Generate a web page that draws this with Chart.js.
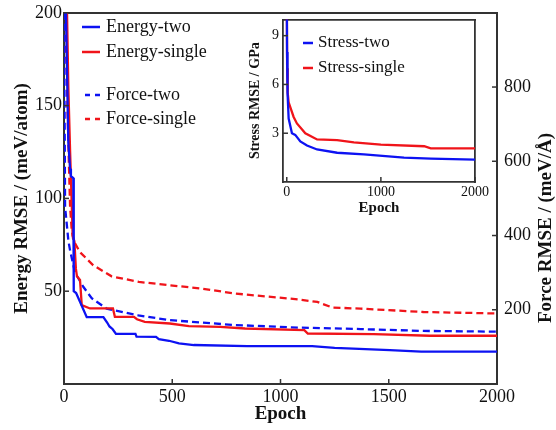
<!DOCTYPE html>
<html>
<head>
  <title>Energy / Force / Stress RMSE vs Epoch</title>
  <meta charset="utf-8">
  <script src="https://cdn.jsdelivr.net/npm/chart.js@4.4.0/dist/chart.umd.min.js"></script>
  <style>
    body { margin: 0; background: #fff; overflow: hidden; }
    #wrap { position: relative; width: 556px; height: 430px; overflow: hidden; }
    #main { position: absolute; left: 0; top: -5px; }
    #inset { position: absolute; left: 236px; top: 7px; }
  </style>
</head>
<body>
<div id="wrap">
  <canvas id="main" width="556" height="435"></canvas>
  <canvas id="inset" width="255" height="219"></canvas>
</div>
<script>
  // ---- data ----
  var energyTwoEpoch = [0, 9, 20, 28, 32, 43, 44, 46, 56, 105, 182, 200, 210, 225, 240, 330, 335, 425, 438, 485, 531, 600, 846, 1146, 1250, 1505, 1650, 2000];
  var energyTwoRmse  = [200, 200, 130, 116, 112, 111, 80, 50, 49, 36, 36, 33, 31, 29.5, 27, 27, 25.5, 25.4, 24.2, 23.3, 21.9, 21, 20.4, 20.4, 19.5, 18.3, 17.4, 17.4];

  var energySingleEpoch = [0, 14, 20, 28, 35, 40, 48, 55, 60, 74, 82, 120, 226, 235, 323, 337, 373, 489, 577, 721, 836, 1110, 1126, 1430, 1690, 2000];
  var energySingleRmse  = [200, 200, 160, 126, 100, 80, 77, 62, 58, 56, 42.5, 40.7, 40.7, 36.2, 36.2, 34.9, 33.5, 32.6, 31.2, 30.8, 29.9, 29.0, 27.2, 26.9, 26.0, 26.0];

  var forceTwoEpoch = [0, 3, 5, 20, 28, 51, 89, 128, 197, 343, 489, 785, 1080, 1370, 1660, 2000];
  var forceTwoRmse  = [1000, 700, 477, 387, 360, 300, 262, 231, 203, 185, 172, 159, 152, 148, 143, 141];

  var forceSingleEpoch = [5, 12, 20, 28, 35, 43, 74, 135, 220, 346, 489, 637, 785, 1080, 1170, 1240, 1370, 1660, 2000];
  var forceSingleRmse  = [1000, 850, 650, 480, 420, 387, 355, 320, 290, 275, 266, 257, 244, 228, 221, 206, 203, 194, 190];

  var stressTwoEpoch = [0, 3, 8, 20, 55, 90, 144, 215, 322, 535, 820, 1246, 1530, 2000];
  var stressTwoRmse  = [12, 8, 5.5, 3.9, 3.0, 2.9, 2.5, 2.24, 2.0, 1.8, 1.7, 1.5, 1.44, 1.38];

  var stressSingleEpoch = [0, 4, 10, 20, 73, 108, 197, 322, 535, 713, 1000, 1460, 1530, 2000];
  var stressSingleRmse  = [12, 7, 5.5, 4.9, 4.0, 3.6, 3.0, 2.62, 2.58, 2.44, 2.3, 2.2, 2.07, 2.07];

  var epochTicks = [0, 500, 1000, 1500, 2000];
  var energyTicks = [50, 100, 150, 200];
  var forceTicks = [200, 400, 600, 800];
  var insetEpochTicks = [0, 1000, 2000];
  var stressTicks = [3, 6, 9];

  var forceTitle = 'Force RMSE / (meV/\u00C5)';

  // ---- styles ----
  var blue = '#0d12f2';
  var red = '#f0141a';
  var axisColor = '#333';
  var serif = '"Liberation Serif", "Times New Roman", serif';

  function pts(xs, ys) {
    return xs.map(function(x, i) { return {x: x, y: ys[i]}; });
  }
  function fixTicks(list) {
    return function(s) { s.ticks = list.map(function(v) { return {value: v}; }); };
  }
  function plain(v) { return String(v); }

  // short ticks drawn inward, like the original plot
  var innerTicks = {
    id: 'innerTicks',
    afterDraw: function(chart) {
      var ctx = chart.ctx, a = chart.chartArea;
      ctx.save();
      ctx.strokeStyle = axisColor;
      ctx.lineWidth = 1.5;
      Object.values(chart.scales).forEach(function(s) {
        if (s.options.ticks.display === false) return;
        s.ticks.forEach(function(t) {
          var p = s.getPixelForValue(t.value);
          ctx.beginPath();
          if (s.position === 'bottom') { ctx.moveTo(p, a.bottom); ctx.lineTo(p, a.bottom - 5); }
          else if (s.position === 'left') { ctx.moveTo(a.left, p); ctx.lineTo(a.left + 5, p); }
          else { ctx.moveTo(a.right, p); ctx.lineTo(a.right - 5, p); }
          ctx.stroke();
        });
      });
      ctx.restore();
    }
  };

  // legend drawn inside the plot
  function boxLegend(rows, x0, x1, tx, size) {
    return {
      id: 'boxLegend',
      afterDraw: function(chart) {
        var ctx = chart.ctx;
        ctx.save();
        ctx.font = size + 'px ' + serif;
        ctx.textBaseline = 'middle';
        chart.data.datasets.forEach(function(ds, i) {
          var y = rows[i];
          ctx.strokeStyle = ds.borderColor;
          ctx.lineWidth = 2.5;
          ctx.setLineDash(ds.borderDash ? [5, 5] : []);
          ctx.beginPath();
          ctx.moveTo(ds.borderDash ? x0 + 3 : x0, y);
          ctx.lineTo(x1, y);
          ctx.stroke();
          ctx.setLineDash([]);
          ctx.fillStyle = '#111';
          ctx.fillText(ds.label, tx, y);
        });
        ctx.restore();
      }
    };
  }

  // right-hand title reads bottom to top
  var rightTitle = {
    id: 'rightTitle',
    afterDraw: function(chart) {
      var ctx = chart.ctx;
      ctx.save();
      ctx.translate(546, 233);
      ctx.rotate(-Math.PI / 2);
      ctx.font = 'bold 19px ' + serif;
      ctx.fillStyle = '#111';
      ctx.textAlign = 'center';
      ctx.textBaseline = 'middle';
      ctx.fillText(forceTitle, 0, 0);
      ctx.restore();
    }
  };

  var lineBase = {pointRadius: 0, borderWidth: 2.3, tension: 0, fill: false};

  new Chart(document.getElementById('main'), {
    type: 'line',
    data: {
      datasets: [
        Object.assign({label: 'Energy-two', data: pts(energyTwoEpoch, energyTwoRmse), borderColor: blue, yAxisID: 'y'}, lineBase),
        Object.assign({label: 'Energy-single', data: pts(energySingleEpoch, energySingleRmse), borderColor: red, yAxisID: 'y'}, lineBase),
        Object.assign({label: 'Force-two', data: pts(forceTwoEpoch, forceTwoRmse), borderColor: blue, borderDash: [7, 4], yAxisID: 'y1'}, lineBase),
        Object.assign({label: 'Force-single', data: pts(forceSingleEpoch, forceSingleRmse), borderColor: red, borderDash: [7, 4], yAxisID: 'y1'}, lineBase)
      ]
    },
    options: {
      responsive: false,
      animation: false,
      layout: {padding: 0, autoPadding: false},
      plugins: {legend: {display: false}, tooltip: {enabled: false}},
      scales: {
        x: {
          type: 'linear', position: 'bottom', min: 0, max: 2000,
          afterBuildTicks: fixTicks(epochTicks),
          afterFit: function(s) { s.height = 46; },
          grid: {display: false, drawTicks: false},
          border: {display: true, color: axisColor, width: 2},
          ticks: {padding: 2, color: '#111', callback: plain, maxRotation: 0, font: {family: serif, size: 18}},
          title: {display: true, text: 'Epoch', color: '#111', padding: {top: 0, bottom: 5}, font: {family: serif, size: 19, weight: 'bold'}}
        },
        x2: {
          type: 'linear', position: 'top', min: 0, max: 2000,
          afterFit: function(s) { s.height = 12; },
          grid: {display: false, drawTicks: false},
          border: {display: true, color: axisColor, width: 2},
          ticks: {display: false}
        },
        y: {
          type: 'linear', position: 'left', min: 0, max: 200,
          afterBuildTicks: fixTicks(energyTicks),
          afterFit: function(s) { s.width = 64; },
          grid: {display: false, drawTicks: false},
          border: {display: true, color: axisColor, width: 2},
          ticks: {padding: 2, color: '#111', callback: plain, font: {family: serif, size: 18}},
          title: {display: true, text: 'Energy RMSE / (meV/atom)', color: '#111', padding: {top: 11, bottom: 0}, font: {family: serif, size: 19, weight: 'bold'}}
        },
        y1: {
          type: 'linear', position: 'right', min: 0, max: 1000,
          afterBuildTicks: fixTicks(forceTicks),
          afterFit: function(s) { s.width = 59; },
          grid: {display: false, drawTicks: false},
          border: {display: true, color: axisColor, width: 2},
          ticks: {padding: 7, color: '#111', callback: plain, font: {family: serif, size: 18}}
        }
      }
    },
    plugins: [innerTicks, boxLegend([32, 57, 100, 124], 82, 100, 106, 18), rightTitle]
  });

  new Chart(document.getElementById('inset'), {
    type: 'line',
    data: {
      datasets: [
        Object.assign({label: 'Stress-two', data: pts(stressTwoEpoch, stressTwoRmse), borderColor: blue}, lineBase),
        Object.assign({label: 'Stress-single', data: pts(stressSingleEpoch, stressSingleRmse), borderColor: red}, lineBase)
      ]
    },
    options: {
      responsive: false,
      animation: false,
      layout: {padding: {top: 6, right: 9, left: 0, bottom: 0}, autoPadding: false},
      plugins: {legend: {display: false}, tooltip: {enabled: false}},
      scales: {
        x: {
          type: 'linear', position: 'bottom', min: -40, max: 2000,
          afterBuildTicks: fixTicks(insetEpochTicks),
          afterFit: function(s) { s.height = 44; },
          grid: {display: false, drawTicks: false},
          border: {display: true, color: axisColor, width: 1.8},
          ticks: {padding: 2, color: '#111', callback: plain, maxRotation: 0, font: {family: serif, size: 14}},
          title: {display: true, text: 'Epoch', color: '#111', padding: {top: 0, bottom: 9}, font: {family: serif, size: 15, weight: 'bold'}}
        },
        x2: {
          type: 'linear', position: 'top', min: -40, max: 2000,
          afterFit: function(s) { s.height = 0; },
          grid: {display: false, drawTicks: false},
          border: {display: true, color: axisColor, width: 1.8},
          ticks: {display: false}
        },
        y: {
          type: 'linear', position: 'left', min: 0, max: 10,
          afterBuildTicks: fixTicks(stressTicks),
          afterFit: function(s) { s.width = 47; },
          grid: {display: false, drawTicks: false},
          border: {display: true, color: axisColor, width: 1.8},
          ticks: {padding: 4, color: '#111', callback: plain, font: {family: serif, size: 14}},
          title: {display: true, text: 'Stress RMSE / GPa', color: '#111', padding: {top: 11, bottom: 0}, font: {family: serif, size: 14, weight: 'bold'}}
        },
        y2: {
          type: 'linear', position: 'right', min: 0, max: 10,
          afterFit: function(s) { s.width = 0; },
          grid: {display: false, drawTicks: false},
          border: {display: true, color: axisColor, width: 1.8},
          ticks: {display: false}
        }
      }
    },
    plugins: [innerTicks, boxLegend([36, 61], 67, 77, 82, 17)]
  });
</script>
</body>
</html>
